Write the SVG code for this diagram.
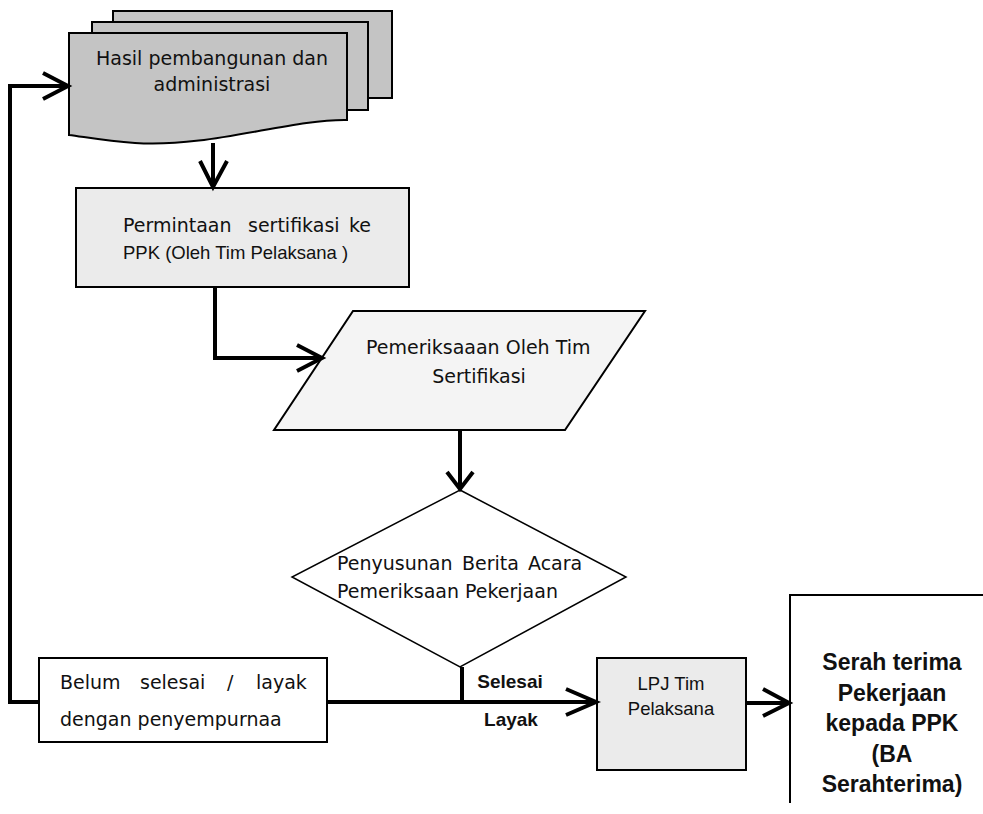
<svg xmlns="http://www.w3.org/2000/svg" width="983" height="814" viewBox="0 0 983 814">
<style>
.t{font-family:"DejaVu Sans","Liberation Sans",sans-serif;font-size:19px;fill:#111}
.a{font-family:"Liberation Sans",Arial,sans-serif;font-size:18.5px;fill:#111}
.b{font-family:"Liberation Sans",Arial,sans-serif;font-weight:bold;fill:#111}
.o{stroke:#000;stroke-width:2}
.c{fill:none;stroke:#000;stroke-width:4}
</style>
<rect width="983" height="814" fill="#fff"/>
<g id="doc">
<rect class="o" x="113" y="11" width="279" height="87" fill="#c4c4c4"/>
<rect class="o" x="92" y="22" width="276" height="88" fill="#c4c4c4"/>
<path class="o" d="M69,33 H347 V120 C290,119 210,148 135,143 C105,141 85,137 69,135 Z" fill="#c4c4c4"/>
<text class="t" x="212" y="65" text-anchor="middle">Hasil pembangunan dan</text>
<text class="t" x="212" y="91" text-anchor="middle">administrasi</text>
</g>
<g id="permintaan">
<rect class="o" x="76" y="188" width="333" height="99" fill="#ebebeb"/>
<text class="t" y="232"><tspan x="123">Permintaan</tspan><tspan x="248">sertifikasi</tspan><tspan x="349">ke</tspan></text>
<text class="a" x="123" y="259">PPK (Oleh Tim Pelaksana )</text>
</g>
<g id="pemeriksaan">
<path class="o" d="M353,311 H645 L565,430 H274 Z" fill="#f4f4f4"/>
<text class="t" x="366" y="354">Pemeriksaaan Oleh Tim</text>
<text class="t" x="479" y="383" text-anchor="middle">Sertifikasi</text>
</g>
<g id="penyusunan">
<path d="M460,490 L626,577 L460,667 L292,577 Z" fill="#fff" stroke="#000" stroke-width="1.5"/>
<text class="t" y="570"><tspan x="337">Penyusunan</tspan><tspan x="462">Berita</tspan><tspan x="528">Acara</tspan></text>
<text class="t" x="337" y="598">Pemeriksaan Pekerjaan</text>
</g>
<g id="belum">
<rect class="o" x="39" y="658" width="288" height="84" fill="#fff"/>
<text class="t" y="689"><tspan x="60">Belum</tspan><tspan x="140">selesai</tspan><tspan x="227">/</tspan><tspan x="256">layak</tspan></text>
<text class="t" x="60" y="726">dengan penyempurnaa</text>
</g>
<g id="lpj">
<rect class="o" x="597" y="658" width="149" height="112" fill="#ebebeb"/>
<text class="a" x="671" y="690" text-anchor="middle" font-size="17.5">LPJ Tim</text>
<text class="a" x="671" y="715" text-anchor="middle" font-size="17.5">Pelaksana</text>
</g>
<g id="serah">
<path d="M983,595 H790 V803" fill="none" stroke="#000" stroke-width="2"/>
<text class="b" font-size="23" text-anchor="middle"><tspan x="892" y="670">Serah terima</tspan><tspan x="892" y="701">Pekerjaan</tspan><tspan x="892" y="731">kepada PPK</tspan><tspan x="892" y="762">(BA</tspan><tspan x="892" y="792">Serahterima)</tspan></text>
</g>
<g id="connectors">
<path class="c" d="M213,143 V187"/>
<path class="c" d="M200,161 L213,187 L227,161"/>
<path class="c" d="M215,287 V358 H322"/>
<path class="c" d="M297,345 L322,358 L297,371"/>
<path class="c" d="M460,430 V489"/>
<path class="c" d="M447,472 L460,489 L473,472"/>
<path class="c" d="M462,667 V702 M327,702 H596"/>
<path class="c" d="M566,689 L596,702 L566,715"/>
<path class="c" d="M39,702 H10 V86 H68"/>
<path class="c" d="M43,73 L68,86 L43,99"/>
<path class="c" d="M746,703 H789"/>
<path class="c" d="M763,689 L789,703 L763,716"/>
</g>
<text class="b" font-size="19" x="510" y="688" text-anchor="middle">Selesai</text>
<text class="b" font-size="19" x="511" y="726" text-anchor="middle">Layak</text>
</svg>
